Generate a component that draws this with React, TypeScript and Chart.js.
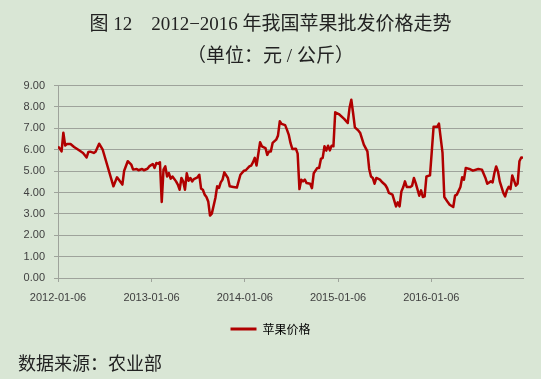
import { useEffect, useRef } from 'react';
import { Chart, registerables } from 'chart.js';

Chart.register(...registerables);

const titleLine1 = '图 12　2012−2016 年我国苹果批发价格走势';
const titleLine2 = '（单位：元 / 公斤）';
const seriesName = '苹果价格';
const sourceNote = '数据来源：农业部';

// x positions are weeks counted from 2012-01-06
const yearTickWeeks = [0, 52.29, 104.43, 156.57, 208.71];
const yearTickLabels = ['2012-01-06', '2013-01-06', '2014-01-06', '2015-01-06', '2016-01-06'];
const weekMax = 260;
const yMin = 0;
const yMax = 9;

const weeks = [
  0, 1, 2, 3, 4, 5, 7, 9, 12, 14, 16, 17, 18, 20, 21, 23, 25, 31, 33, 36, 37, 39, 41, 42, 44, 45, 47, 48, 50, 51,
  53, 54, 55, 56, 57, 58, 59, 60, 61, 62, 63, 64, 66, 67, 68, 69, 70, 71, 72, 73, 74, 75, 76, 78, 79, 80, 81, 82, 83, 84,
  85, 86, 88, 89, 90, 91, 92, 93, 95, 96, 98, 100, 102,
  104, 105, 107, 108, 109, 110, 111, 113, 114, 116, 117, 118, 119, 120, 122, 123, 124, 125, 127, 128, 129, 130, 131, 133, 134,
  135, 136, 137, 138, 139, 141, 142, 143, 145, 146, 147, 148, 149, 150, 151, 152, 153, 154,
  155, 157, 160, 162, 163, 164, 165, 166, 168, 169, 171, 173, 174, 175, 176, 177, 178, 180, 181, 183, 184, 185, 187,
  189, 190, 191, 192, 193, 194, 195, 197, 198, 199, 200, 202, 203, 204, 205, 206, 208,
  209, 210, 212, 213, 215, 216, 218, 219, 221, 222, 223, 225, 226, 227, 228, 230, 232, 235, 237, 239, 240, 242, 243,
  244, 245, 246, 247, 249, 250, 251, 252, 253, 254, 256, 257, 258, 259, 260,
];

const prices = [
  6.15, 6.05, 5.92, 6.8, 6.2, 6.27, 6.27, 6.13, 5.96, 5.85, 5.64, 5.9, 5.91, 5.85, 5.91, 6.28, 6.0, 4.29, 4.71, 4.37, 5.02, 5.46, 5.3, 5.07, 5.1, 5.04, 5.1, 5.04, 5.11, 5.22,
  5.33, 5.15, 5.38, 5.35, 5.41, 3.56, 5.07, 5.22, 4.75, 4.91, 4.65, 4.75, 4.52, 4.37, 4.13, 4.68, 4.52, 4.13, 4.9, 4.55, 4.68, 4.52, 4.63, 4.71, 4.83, 4.18, 4.13, 3.9, 3.79, 3.58,
  2.92, 3.01, 3.74, 4.29, 4.21, 4.47, 4.6, 4.94, 4.68, 4.29, 4.26, 4.23, 4.83,
  5.02, 5.04, 5.22, 5.26, 5.41, 5.62, 5.26, 6.35, 6.16, 6.08, 5.76, 5.92, 5.92, 6.32, 6.47, 6.66, 7.33, 7.21, 7.15, 6.94, 6.71, 6.32, 6.04, 6.05, 5.82,
  4.16, 4.6, 4.52, 4.6, 4.44, 4.41, 4.2, 4.9, 5.15, 5.15, 5.57, 5.62, 6.16, 5.96, 6.19, 5.97, 6.19, 6.16,
  7.75, 7.67, 7.44, 7.25, 7.95, 8.34, 7.72, 7.05, 6.89, 6.78, 6.24, 5.92, 5.1, 4.75, 4.68, 4.41, 4.68, 4.6, 4.5, 4.35, 4.21, 3.98, 3.9,
  3.35, 3.54, 3.35, 4.05, 4.24, 4.52, 4.26, 4.26, 4.32, 4.68, 4.44, 3.85, 4.1, 3.79, 3.82, 4.75, 4.8,
  5.92, 7.07, 7.07, 7.22, 5.85, 3.79, 3.54, 3.43, 3.32, 3.85, 3.9, 4.26, 4.71, 4.6, 5.15, 5.1, 5.02, 5.1, 5.07, 4.68, 4.41, 4.52, 4.47,
  4.91, 5.22, 4.99, 4.52, 3.98, 3.82, 4.1, 4.26, 4.16, 4.8, 4.32, 4.41, 5.46, 5.64, 5.62,
];

const lineColor = '#b00000';
const gridColor = '#9ea39b';
const tickColor = '#404040';
const bgColor = '#d9e6d5';

export default function App() {
  const canvasRef = useRef<HTMLCanvasElement | null>(null);

  useEffect(() => {
    document.body.style.margin = '0';
    const canvas = canvasRef.current;
    if (!canvas) return;
    const chart = new Chart(canvas, {
      type: 'line',
      data: {
        datasets: [
          {
            label: seriesName,
            data: weeks.map((w, i) => ({ x: w, y: prices[i] })),
            borderColor: lineColor,
            backgroundColor: lineColor,
            borderWidth: 2.5,
            pointRadius: 0,
            tension: 0,
            borderJoinStyle: 'round',
          },
        ],
      },
      options: {
        responsive: false,
        animation: false,
        devicePixelRatio: 1,
        layout: { padding: { left: 18, right: 18, top: 0, bottom: 34 } },
        scales: {
          x: {
            type: 'linear',
            min: 0,
            max: weekMax,
            afterBuildTicks: (axis: any) => {
              axis.ticks = yearTickWeeks.map((v) => ({ value: v }));
            },
            afterFit: (s: any) => {
              s.height = 35;
            },
            grid: { drawOnChartArea: false, drawTicks: true, tickLength: 4, color: gridColor, lineWidth: 1 },
            border: { display: true, color: gridColor, width: 1 },
            ticks: {
              autoSkip: false,
              maxRotation: 0,
              padding: 9,
              color: tickColor,
              font: { family: '"Liberation Sans", Arial, sans-serif', size: 11 },
              callback: (_v: any, i: number) => yearTickLabels[i] ?? '',
            },
          },
          y: {
            min: yMin,
            max: yMax,
            afterFit: (s: any) => {
              s.width = 40;
            },
            grid: { color: gridColor, lineWidth: 1, tickLength: 4, drawTicks: true },
            border: { display: true, color: gridColor, width: 1 },
            ticks: {
              stepSize: 1,
              padding: 9,
              color: tickColor,
              font: { family: '"Liberation Sans", Arial, sans-serif', size: 11 },
              callback: (v: any) => Number(v).toFixed(2),
            },
          },
        },
        plugins: {
          title: {
            display: true,
            text: titleLine1,
            color: '#222',
            font: { family: '"Liberation Serif", "Noto Sans CJK SC", serif', size: 19, weight: 'normal', lineHeight: 1.2 },
            padding: { top: 14, bottom: 4 },
          },
          subtitle: {
            display: true,
            text: titleLine2,
            color: '#222',
            font: { family: '"Liberation Serif", "Noto Sans CJK SC", serif', size: 19, weight: 'normal', lineHeight: 1.2 },
            padding: { top: 5, bottom: 17 },
          },
          legend: {
            display: true,
            position: 'bottom',
            labels: {
              boxWidth: 26,
              boxHeight: 3,
              padding: 10,
              color: '#333',
              font: { family: '"Noto Sans CJK SC", sans-serif', size: 12 },
              generateLabels: () => [
                {
                  text: seriesName,
                  fillStyle: lineColor,
                  strokeStyle: lineColor,
                  lineWidth: 0,
                  hidden: false,
                  datasetIndex: 0,
                },
              ],
            },
          },
          tooltip: { enabled: false },
        },
      },
    } as any);
    return () => chart.destroy();
  }, []);

  return (
    <div style={{ position: 'relative', width: 541, height: 379, background: bgColor, overflow: 'hidden' }}>
      <canvas ref={canvasRef} width={541} height={379} style={{ position: 'absolute', left: 0, top: 0 }} />
      <div
        style={{
          position: 'absolute',
          left: 18,
          top: 352,
          fontFamily: '"Noto Sans CJK SC", sans-serif',
          fontSize: 18,
          lineHeight: '20px',
          color: '#222',
          whiteSpace: 'nowrap',
        }}
      >
        {sourceNote}
      </div>
    </div>
  );
}
